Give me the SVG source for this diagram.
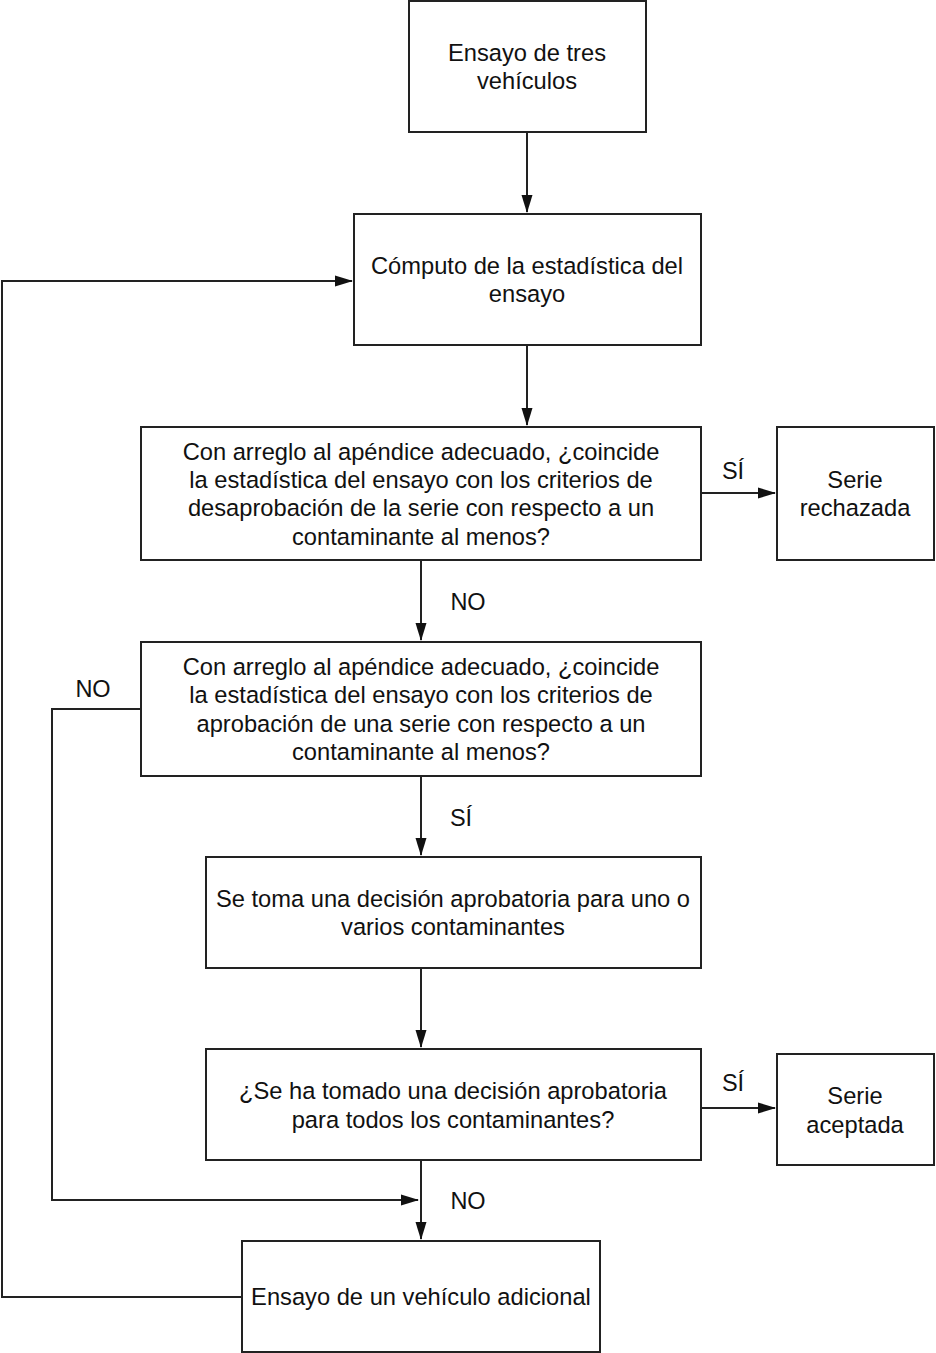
<svg xmlns="http://www.w3.org/2000/svg" width="936" height="1353" viewBox="0 0 936 1353">
<style>
.box{fill:#fff;stroke:#222;stroke-width:2}
.t{font-family:"Liberation Sans",Arial,sans-serif;font-size:23.7px;fill:#111;text-anchor:middle}
.l{font-family:"Liberation Sans",Arial,sans-serif;font-size:23.5px;fill:#111;text-anchor:middle}
.c{fill:none;stroke:#222;stroke-width:2}
</style>
<defs>
<marker id="ah" markerWidth="18" markerHeight="12" refX="17" refY="6" orient="auto" markerUnits="userSpaceOnUse">
<path d="M0,0.5 L18,6 L0,11.5 Z" fill="#111"/>
</marker>
</defs>
<rect width="936" height="1353" fill="#fff"/>
<g id="connectors">
<path class="c" d="M527,132 V212" marker-end="url(#ah)"/>
<path class="c" d="M527,345 V425" marker-end="url(#ah)"/>
<path class="c" d="M701,493 H775" marker-end="url(#ah)"/>
<path class="c" d="M421,560 V640" marker-end="url(#ah)"/>
<path class="c" d="M421,776 V855" marker-end="url(#ah)"/>
<path class="c" d="M421,968 V1047" marker-end="url(#ah)"/>
<path class="c" d="M701,1108 H775" marker-end="url(#ah)"/>
<path class="c" d="M421,1160 V1239" marker-end="url(#ah)"/>
<path class="c" d="M141,709 H52 V1200 H418" marker-end="url(#ah)"/>
<path class="c" d="M242,1297 H2 V281 H352" marker-end="url(#ah)"/>
<text class="l" x="733" y="479">SÍ</text>
<text class="l" x="468" y="610">NO</text>
<text class="l" x="461" y="826">SÍ</text>
<text class="l" x="733" y="1091">SÍ</text>
<text class="l" x="468" y="1209">NO</text>
<text class="l" x="93" y="697">NO</text>
</g>
<g id="n1">
<rect class="box" x="409" y="1" width="237" height="131"/>
<text class="t" x="527" y="61">Ensayo de tres</text>
<text class="t" x="527" y="89">vehículos</text>
</g>
<g id="n2">
<rect class="box" x="354" y="214" width="347" height="131"/>
<text class="t" x="527" y="274">Cómputo de la estadística del</text>
<text class="t" x="527" y="302">ensayo</text>
</g>
<g id="n3">
<rect class="box" x="141" y="427" width="560" height="133"/>
<text class="t" x="421" y="460">Con arreglo al apéndice adecuado, ¿coincide</text>
<text class="t" x="421" y="488">la estadística del ensayo con los criterios de</text>
<text class="t" x="421" y="516">desaprobación de la serie con respecto a un</text>
<text class="t" x="421" y="545">contaminante al menos?</text>
</g>
<g id="n3b">
<rect class="box" x="777" y="427" width="157" height="133"/>
<text class="t" x="855" y="488">Serie</text>
<text class="t" x="855" y="516">rechazada</text>
</g>
<g id="n4">
<rect class="box" x="141" y="642" width="560" height="134"/>
<text class="t" x="421" y="675">Con arreglo al apéndice adecuado, ¿coincide</text>
<text class="t" x="421" y="703">la estadística del ensayo con los criterios de</text>
<text class="t" x="421" y="732">aprobación de una serie con respecto a un</text>
<text class="t" x="421" y="760">contaminante al menos?</text>
</g>
<g id="n5">
<rect class="box" x="206" y="857" width="495" height="111"/>
<text class="t" x="453" y="907">Se toma una decisión aprobatoria para uno o</text>
<text class="t" x="453" y="935">varios contaminantes</text>
</g>
<g id="n6">
<rect class="box" x="206" y="1049" width="495" height="111"/>
<text class="t" x="453" y="1099">¿Se ha tomado una decisión aprobatoria</text>
<text class="t" x="453" y="1128">para todos los contaminantes?</text>
</g>
<g id="n6b">
<rect class="box" x="777" y="1054" width="157" height="111"/>
<text class="t" x="855" y="1104">Serie</text>
<text class="t" x="855" y="1133">aceptada</text>
</g>
<g id="n7">
<rect class="box" x="242" y="1241" width="358" height="111"/>
<text class="t" x="421" y="1305">Ensayo de un vehículo adicional</text>
</g>
</svg>
